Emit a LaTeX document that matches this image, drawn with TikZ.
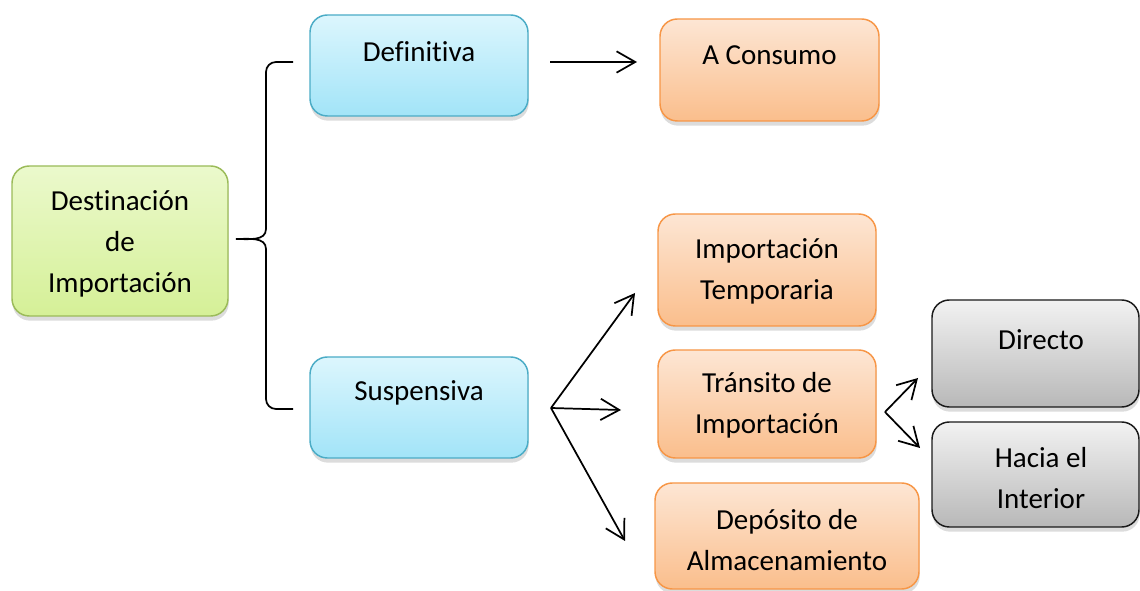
\documentclass[tikz,border=0pt]{standalone}
\usepackage{fontspec}
\setmainfont{Carlito}[Ligatures={NoCommon}]
\usetikzlibrary{arrows.meta,shadows}
\definecolor{gB}{HTML}{9BBB59}\definecolor{gT}{HTML}{EBF9CC}\definecolor{gL}{HTML}{D5F097}
\definecolor{bB}{HTML}{4BACC6}\definecolor{bT}{HTML}{DCF6FD}\definecolor{bL}{HTML}{A2E4F8}
\definecolor{oB}{HTML}{F79646}\definecolor{oT}{HTML}{FDE6D4}\definecolor{oL}{HTML}{FABE8C}
\definecolor{yB}{HTML}{1A1A1A}\definecolor{yT}{HTML}{F2F2F2}\definecolor{yL}{HTML}{B8B8B8}
\tikzset{
  box/.style={rounded corners=13pt, inner sep=0pt, outer sep=0pt, line width=1.1pt,
    drop shadow={opacity=0.28, shadow xshift=0.5pt, shadow yshift=-3.5pt}},
  greenbox/.style={box, draw=gB, top color=gT, bottom color=gL},
  bluebox/.style={box, draw=bB, top color=bT, bottom color=bL},
  orangebox/.style={box, draw=oB, top color=oT, bottom color=oL},
  graybox/.style={box, draw=yB, top color=yT, bottom color=yL},
  txt/.style={font=\fontsize{21.75}{30.75}\selectfont, align=center, inner sep=0pt},
  arr/.style={line width=1.3pt, -{Straight Barb[length=14pt, width=16pt, line width=1.3pt]}},
}
\begin{document}
\begin{tikzpicture}[x=0.75pt, y=-0.75pt]
\useasboundingbox (0,0) rectangle (1140,591);
% boxes: center at (cx,cy), size w x h in px
\node[greenbox, minimum width={216*0.75pt}, minimum height={150*0.75pt}] (dest) at (120,241) {};
\node[bluebox, minimum width={218*0.75pt}, minimum height={101*0.75pt}] (def) at (419,65.5) {};
\node[bluebox, minimum width={218*0.75pt}, minimum height={101*0.75pt}] (sus) at (419,407.5) {};
\node[orangebox, minimum width={219*0.75pt}, minimum height={102*0.75pt}] (cons) at (769.5,70) {};
\node[orangebox, minimum width={218*0.75pt}, minimum height={112*0.75pt}] (temp) at (767,270) {};
\node[orangebox, minimum width={218*0.75pt}, minimum height={108*0.75pt}] (tran) at (767,404) {};
\node[orangebox, minimum width={264*0.75pt}, minimum height={106*0.75pt}] (depo) at (787,536) {};
\node[graybox, minimum width={207*0.75pt}, minimum height={107*0.75pt}] (dir) at (1035.5,353.5) {};
\node[graybox, minimum width={207*0.75pt}, minimum height={105*0.75pt}] (hac) at (1035.5,474.5) {};
% texts
\node[txt] (destt) at (120,244) {Destinación\\de\\Importación};
\node[txt] (deft) at (419,52) {Definitiva};
\node[txt] (sust) at (419,393) {Suspensiva};
\node[txt] (const) at (769.5,55) {A Consumo};
\node[txt] (tempt) at (767,271) {Importación\\Temporaria};
\node[txt] (trant) at (767,405) {Tránsito de\\Importación};
\node[txt] (depot) at (787,540) {Depósito de\\Almacenamiento};
\node[txt] (dirt) at (1041,340) {Directo};
\node[txt] (hact) at (1041,478) {Hacia el\\Interior};
% brace
\coordinate (btop) at (293,62);
\coordinate (bbot) at (293,409);
\coordinate (btip) at (236,239);
\draw[line width=1.3pt] (btop) -- (276,62) to[out=180,in=90] (266,72) -- (266,229)
  to[out=-90,in=0] (btip) to[out=0,in=90] (266,249) -- (266,399) to[out=-90,in=180] (276,409) -- (bbot);
% arrows
\coordinate (d0) at (550,62); \coordinate (d1) at (637,62);
\draw[arr] (d0) -- (d1);
\coordinate (s0) at (551,408);
\coordinate (s1) at (635,293); \coordinate (s2) at (621,410); \coordinate (s3) at (625,541);
\draw[arr] (s0) -- (s1);
\draw[arr] (s0) -- (s2);
\draw[arr] (s0) -- (s3);
\coordinate (t0) at (885,412);
\coordinate (t1) at (918,378); \coordinate (t2) at (920,448);
\draw[arr] (t0) -- (t1);
\draw[arr] (t0) -- (t2);
\end{tikzpicture}
\end{document}
